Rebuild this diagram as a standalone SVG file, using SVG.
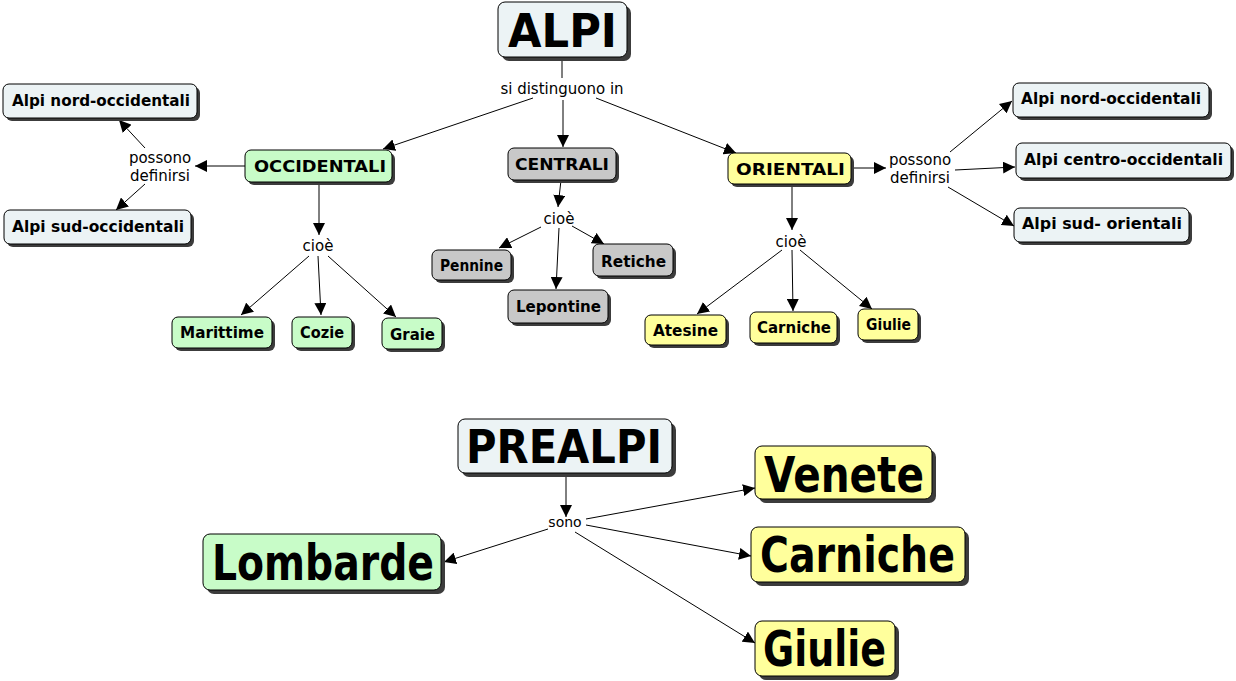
<svg xmlns="http://www.w3.org/2000/svg" width="1236" height="681" viewBox="0 0 1236 681">
<style>
.sh{fill:#3c3c3c}
.bx{stroke:#000;stroke-width:1}
.blue{fill:#ecf3f5}.green{fill:#c8fcc8}.grey{fill:#c8c8c8}.yellow{fill:#ffff9c}
.t{font-family:"DejaVu Sans","Liberation Sans",sans-serif;font-weight:bold;fill:#000}
.s{font-size:15px}
.lb{font-family:"DejaVu Sans","Liberation Sans",sans-serif;font-size:15px;fill:#000;text-anchor:middle}
.c{fill:none;stroke:#000;stroke-width:1}
</style>
<defs>
<marker id="a" viewBox="0 0 10 10" refX="10" refY="5" markerWidth="12" markerHeight="12" markerUnits="userSpaceOnUse" orient="auto">
<path d="M0,0 L10,5 L0,10 z" fill="#000"/>
</marker>
</defs>
<g id="connectors">
<line class="c" x1="562" y1="57" x2="562" y2="78"/>
<line class="c" x1="563" y1="100" x2="563" y2="147" marker-end="url(#a)"/>
<line class="c" x1="533" y1="98" x2="383" y2="149" marker-end="url(#a)"/>
<line class="c" x1="596" y1="98" x2="736" y2="153" marker-end="url(#a)"/>
<line class="c" x1="245" y1="166" x2="195" y2="166" marker-end="url(#a)"/>
<line class="c" x1="145" y1="148" x2="119" y2="120" marker-end="url(#a)"/>
<line class="c" x1="145" y1="184" x2="116" y2="210" marker-end="url(#a)"/>
<line class="c" x1="319" y1="182" x2="319" y2="235" marker-end="url(#a)"/>
<line class="c" x1="309" y1="256" x2="241" y2="315" marker-end="url(#a)"/>
<line class="c" x1="318" y1="256" x2="321" y2="315" marker-end="url(#a)"/>
<line class="c" x1="328" y1="256" x2="396" y2="317" marker-end="url(#a)"/>
<line class="c" x1="561" y1="180" x2="558" y2="207" marker-end="url(#a)"/>
<line class="c" x1="541" y1="227" x2="499" y2="248" marker-end="url(#a)"/>
<line class="c" x1="559" y1="228" x2="556" y2="289" marker-end="url(#a)"/>
<line class="c" x1="572" y1="226" x2="604" y2="244" marker-end="url(#a)"/>
<line class="c" x1="792" y1="184" x2="792" y2="230" marker-end="url(#a)"/>
<line class="c" x1="782" y1="250" x2="697" y2="314" marker-end="url(#a)"/>
<line class="c" x1="792" y1="250" x2="793" y2="311" marker-end="url(#a)"/>
<line class="c" x1="800" y1="250" x2="872" y2="309" marker-end="url(#a)"/>
<line class="c" x1="851" y1="168" x2="886" y2="168" marker-end="url(#a)"/>
<line class="c" x1="950" y1="152" x2="1012" y2="101" marker-end="url(#a)"/>
<line class="c" x1="955" y1="170" x2="1015" y2="167" marker-end="url(#a)"/>
<line class="c" x1="948" y1="187" x2="1014" y2="226" marker-end="url(#a)"/>
<line class="c" x1="566" y1="475" x2="566" y2="517" marker-end="url(#a)"/>
<line class="c" x1="548" y1="529" x2="444" y2="562" marker-end="url(#a)"/>
<line class="c" x1="586" y1="519" x2="755" y2="488" marker-end="url(#a)"/>
<line class="c" x1="586" y1="525" x2="751" y2="556" marker-end="url(#a)"/>
<line class="c" x1="575" y1="532" x2="755" y2="643" marker-end="url(#a)"/>
</g>
<g id="labels">
<text class="lb" x="562" y="94">si distinguono in</text>
<text class="lb" x="160" y="163">possono</text>
<text class="lb" x="160" y="181">definirsi</text>
<text class="lb" x="920" y="165">possono</text>
<text class="lb" x="920" y="183">definirsi</text>
<text class="lb" x="318" y="251">cioè</text>
<text class="lb" x="559" y="224">cioè</text>
<text class="lb" x="791" y="247">cioè</text>
<text class="lb" x="565" y="527" style="font-size:14px">sono</text>
</g>
<g id="n-alpi"><rect class="sh" x="502" y="6" width="129" height="55" rx="7"/><rect class="bx blue" x="498" y="2" width="129" height="55" rx="7"/><text class="t" x="508" y="47" font-size="46" textLength="109" lengthAdjust="spacingAndGlyphs">ALPI</text></g>
<g id="n-occ"><rect class="sh" x="248" y="153" width="147" height="32" rx="6"/><rect class="bx green" x="245" y="150" width="147" height="32" rx="6"/><text class="t s" x="254" y="172" textLength="132" lengthAdjust="spacingAndGlyphs">OCCIDENTALI</text></g>
<g id="n-cen"><rect class="sh" x="511" y="151" width="108" height="32" rx="6"/><rect class="bx grey" x="508" y="148" width="108" height="32" rx="6"/><text class="t s" x="515" y="170" textLength="94" lengthAdjust="spacingAndGlyphs">CENTRALI</text></g>
<g id="n-ori"><rect class="sh" x="731" y="156" width="123" height="31" rx="6"/><rect class="bx yellow" x="728" y="153" width="123" height="31" rx="6"/><text class="t s" x="736" y="175" textLength="109" lengthAdjust="spacingAndGlyphs">ORIENTALI</text></g>
<g id="n-lno"><rect class="sh" x="6" y="87" width="194" height="34" rx="6"/><rect class="bx blue" x="3" y="84" width="194" height="34" rx="6"/><text class="t s" x="12" y="106" textLength="178" lengthAdjust="spacingAndGlyphs">Alpi nord-occidentali</text></g>
<g id="n-lso"><rect class="sh" x="7" y="213" width="187" height="34" rx="6"/><rect class="bx blue" x="4" y="210" width="187" height="34" rx="6"/><text class="t s" x="12" y="232" textLength="172" lengthAdjust="spacingAndGlyphs">Alpi sud-occidentali</text></g>
<g id="n-mar"><rect class="sh" x="175" y="320" width="100" height="31" rx="6"/><rect class="bx green" x="172" y="317" width="100" height="31" rx="6"/><text class="t s" x="180" y="338" textLength="84" lengthAdjust="spacingAndGlyphs">Marittime</text></g>
<g id="n-coz"><rect class="sh" x="295" y="320" width="60" height="31" rx="6"/><rect class="bx green" x="292" y="317" width="60" height="31" rx="6"/><text class="t s" x="300" y="338" textLength="44" lengthAdjust="spacingAndGlyphs">Cozie</text></g>
<g id="n-gra"><rect class="sh" x="385" y="321" width="60" height="31" rx="6"/><rect class="bx green" x="382" y="318" width="60" height="31" rx="6"/><text class="t s" x="390" y="340" textLength="45" lengthAdjust="spacingAndGlyphs">Graie</text></g>
<g id="n-pen"><rect class="sh" x="435" y="253" width="79" height="30" rx="6"/><rect class="bx grey" x="432" y="250" width="79" height="30" rx="6"/><text class="t s" x="440" y="271" textLength="63" lengthAdjust="spacingAndGlyphs">Pennine</text></g>
<g id="n-lep"><rect class="sh" x="511" y="293" width="100" height="33" rx="6"/><rect class="bx grey" x="508" y="290" width="100" height="33" rx="6"/><text class="t s" x="516" y="312" textLength="85" lengthAdjust="spacingAndGlyphs">Lepontine</text></g>
<g id="n-ret"><rect class="sh" x="596" y="247" width="80" height="32" rx="6"/><rect class="bx grey" x="593" y="244" width="80" height="32" rx="6"/><text class="t s" x="601" y="267" textLength="65" lengthAdjust="spacingAndGlyphs">Retiche</text></g>
<g id="n-ate"><rect class="sh" x="648" y="318" width="81" height="30" rx="6"/><rect class="bx yellow" x="645" y="315" width="81" height="30" rx="6"/><text class="t s" x="653" y="336" textLength="65" lengthAdjust="spacingAndGlyphs">Atesine</text></g>
<g id="n-car"><rect class="sh" x="753" y="315" width="87" height="31" rx="6"/><rect class="bx yellow" x="750" y="312" width="87" height="31" rx="6"/><text class="t s" x="757" y="333" textLength="74" lengthAdjust="spacingAndGlyphs">Carniche</text></g>
<g id="n-giu"><rect class="sh" x="861" y="312" width="60" height="31" rx="6"/><rect class="bx yellow" x="858" y="309" width="60" height="31" rx="6"/><text class="t s" x="866" y="330" textLength="45" lengthAdjust="spacingAndGlyphs">Giulie</text></g>
<g id="n-rno"><rect class="sh" x="1016" y="86" width="196" height="34" rx="6"/><rect class="bx blue" x="1013" y="83" width="196" height="34" rx="6"/><text class="t s" x="1021" y="104" textLength="180" lengthAdjust="spacingAndGlyphs">Alpi nord-occidentali</text></g>
<g id="n-rco"><rect class="sh" x="1019" y="146" width="215" height="35" rx="6"/><rect class="bx blue" x="1016" y="143" width="215" height="35" rx="6"/><text class="t s" x="1024" y="165" textLength="199" lengthAdjust="spacingAndGlyphs">Alpi centro-occidentali</text></g>
<g id="n-rso"><rect class="sh" x="1017" y="211" width="175" height="34" rx="6"/><rect class="bx blue" x="1014" y="208" width="175" height="34" rx="6"/><text class="t s" x="1022" y="229" textLength="160" lengthAdjust="spacingAndGlyphs" xml:space="preserve">Alpi sud- orientali</text></g>
<g id="n-prealpi"><rect class="sh" x="462" y="423" width="214" height="54" rx="7"/><rect class="bx blue" x="458" y="419" width="214" height="54" rx="7"/><text class="t" x="466" y="463" font-size="46" textLength="196" lengthAdjust="spacingAndGlyphs">PREALPI</text></g>
<g id="n-lom"><rect class="sh" x="207" y="538" width="238" height="56" rx="7"/><rect class="bx green" x="203" y="534" width="238" height="56" rx="7"/><text class="t" x="212" y="580" font-size="50" textLength="222" lengthAdjust="spacingAndGlyphs">Lombarde</text></g>
<g id="n-ven"><rect class="sh" x="759" y="450" width="177" height="53" rx="7"/><rect class="bx yellow" x="755" y="446" width="177" height="53" rx="7"/><text class="t" x="764" y="492" font-size="50" textLength="160" lengthAdjust="spacingAndGlyphs">Venete</text></g>
<g id="n-carb"><rect class="sh" x="755" y="531" width="214" height="55" rx="7"/><rect class="bx yellow" x="751" y="527" width="214" height="55" rx="7"/><text class="t" x="760" y="572" font-size="50" textLength="195" lengthAdjust="spacingAndGlyphs">Carniche</text></g>
<g id="n-giub"><rect class="sh" x="759" y="625" width="140" height="55" rx="7"/><rect class="bx yellow" x="755" y="621" width="140" height="55" rx="7"/><text class="t" x="763" y="666" font-size="50" textLength="123" lengthAdjust="spacingAndGlyphs">Giulie</text></g>
</svg>
